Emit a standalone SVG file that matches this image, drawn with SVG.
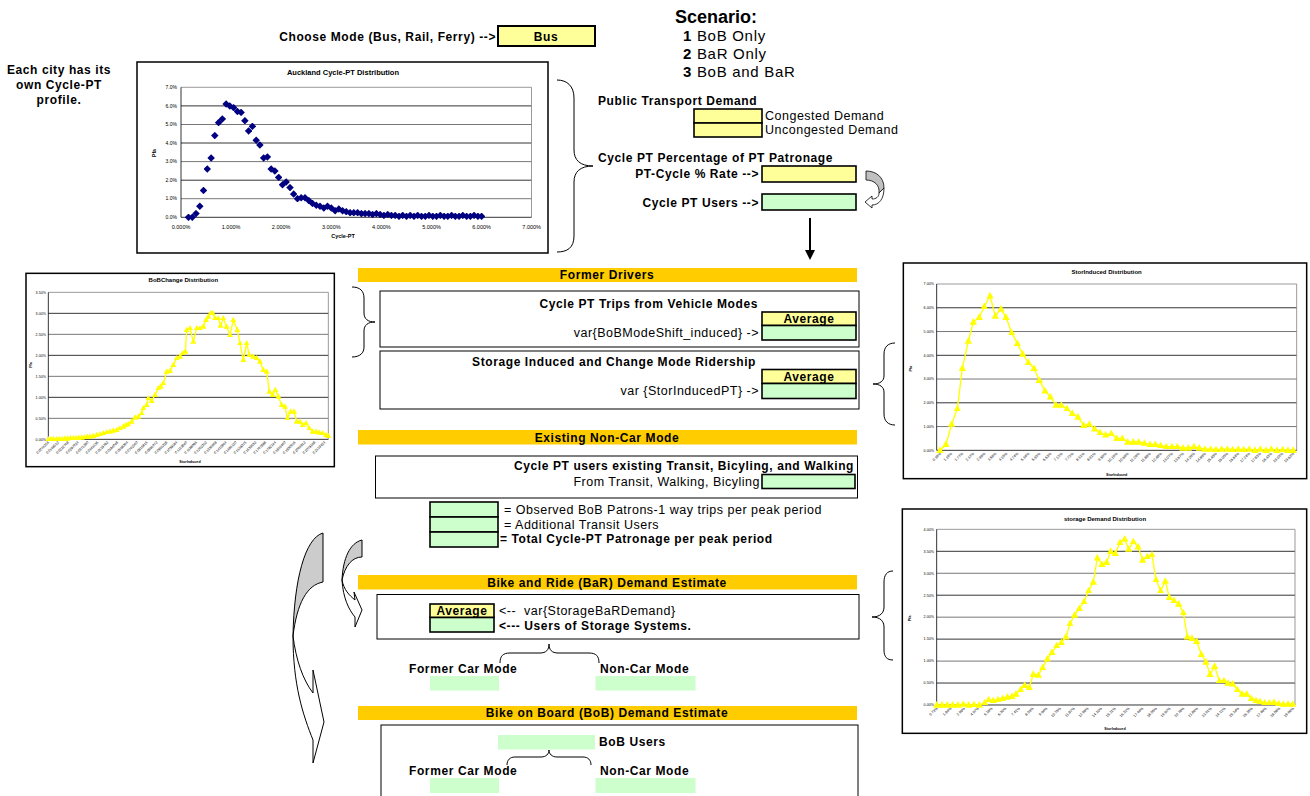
<svg xmlns="http://www.w3.org/2000/svg" width="1310" height="796" viewBox="0 0 1310 796">
<style>
text{font-family:"Liberation Sans",Arial,sans-serif;fill:#000}
.b{font-weight:bold;font-size:12px;letter-spacing:0.6px}
.r{font-size:12.5px;letter-spacing:0.5px}
.band{fill:#FFCC00}
.yc{fill:#FFFF99;stroke:#000;stroke-width:1.6}
.gc{fill:#CCFFCC;stroke:#000;stroke-width:1.6}
.gp{fill:#CCFFCC}
.box{fill:#fff;stroke:#000;stroke-width:1}
.chart{fill:#fff;stroke:#000}
.grid{stroke:#000}
.brace{fill:none;stroke:#000;stroke-width:1}
.ct{text-anchor:middle}
.ce{text-anchor:end}
</style>
<defs>
<marker id="dia" markerUnits="userSpaceOnUse" markerWidth="7.5" markerHeight="7.5" refX="3.75" refY="3.75" viewBox="0 0 7.5 7.5"><path d="M3.75 0L7.5 3.75L3.75 7.5L0 3.75Z" fill="#000080"/></marker>
<marker id="tri" markerUnits="userSpaceOnUse" markerWidth="22" markerHeight="20" refX="11" refY="12" viewBox="0 0 22 20"><path d="M11 0L22 20L0 20Z" fill="#FFFF00"/></marker>
<marker id="tri2" markerUnits="userSpaceOnUse" markerWidth="18" markerHeight="16" refX="9" refY="10" viewBox="0 0 18 16"><path d="M9 0L18 16L0 16Z" fill="#FFFF00"/></marker>
</defs>
<rect width="1310" height="796" fill="#fff"/>

<g id="header-mode">
<text class="b ce" x="496" y="41">Choose Mode (Bus, Rail, Ferry) --&gt;</text>
<rect x="498" y="26" width="97" height="20" fill="#FFFF99" stroke="#000" stroke-width="2"/>
<text class="b ct" x="546" y="41">Bus</text>
</g>

<g id="scenario">
<text x="675" y="23" style="font-weight:bold;font-size:18px">Scenario:</text>
<text x="683" y="41" style="font-size:15px;letter-spacing:0.7px"><tspan font-weight="bold">1</tspan> BoB Only</text>
<text x="683" y="59" style="font-size:15px;letter-spacing:0.7px"><tspan font-weight="bold">2</tspan> BaR Only</text>
<text x="683" y="77" style="font-size:15px;letter-spacing:0.7px"><tspan font-weight="bold">3</tspan> BoB and BaR</text>
</g>

<g id="note-city">
<text class="b ct" x="59" y="74">Each city has its</text>
<text class="b ct" x="59" y="89">own Cycle-PT</text>
<text class="b ct" x="59" y="104">profile.</text>
</g>

<g id="chart-auckland">
<rect class="chart" x="137" y="62" width="411" height="191" stroke-width="1.5"/>
<text class="ct" x="343" y="75" style="font-weight:bold;font-size:7.5px">Auckland Cycle-PT Distribution</text>
<g class="grid" stroke-width="0.8">
<line x1="181" y1="87.3" x2="531.5" y2="87.3" stroke="#808080"/>
<line x1="181" y1="105.9" x2="531.5" y2="105.9"/>
<line x1="181" y1="124.5" x2="531.5" y2="124.5" stroke="#555"/>
<line x1="181" y1="143" x2="531.5" y2="143"/>
<line x1="181" y1="161.6" x2="531.5" y2="161.6" stroke="#555"/>
<line x1="181" y1="180.2" x2="531.5" y2="180.2"/>
<line x1="181" y1="198.7" x2="531.5" y2="198.7" stroke="#555"/>
</g>
<line x1="531.5" y1="87.3" x2="531.5" y2="217.3" stroke="#808080" stroke-width="0.8"/>
<line x1="181" y1="87.3" x2="181" y2="217.3" stroke="#000" stroke-width="0.8"/>
<line x1="181" y1="217.3" x2="531.5" y2="217.3" stroke="#000" stroke-width="0.8"/>
<g style="font-size:5px" class="ce">
<text x="177" y="89">7.0%</text><text x="177" y="107.6">6.0%</text><text x="177" y="126.2">5.0%</text><text x="177" y="144.7">4.0%</text><text x="177" y="163.3">3.0%</text><text x="177" y="181.9">2.0%</text><text x="177" y="200.4">1.0%</text><text x="177" y="219">0.0%</text>
</g>
<g style="font-size:5.5px" class="ct">
<text x="181" y="229">0.000%</text><text x="231.1" y="229">1.000%</text><text x="281.2" y="229">2.000%</text><text x="331.3" y="229">3.000%</text><text x="381.4" y="229">4.000%</text><text x="431.5" y="229">5.000%</text><text x="481.6" y="229">6.000%</text><text x="531.7" y="229">7.000%</text>
</g>
<text class="ct" x="343" y="238" style="font-weight:bold;font-size:5.5px">Cycle-PT</text>
<text class="ct" transform="rotate(-90 156 153)" x="156" y="153" style="font-weight:bold;font-size:5px">Pfa</text>
<polyline fill="none" stroke="none" marker-start="url(#dia)" marker-mid="url(#dia)" marker-end="url(#dia)" points="188.5,217.3 192.3,217.3 196,213.6 199.8,206.2 203.5,190.4 207.3,169 211.1,157.9 214.8,135.6 218.6,122.6 222.3,118.9 226.1,104 229.8,105.9 233.6,107.7 237.4,111.5 241.1,112.4 244.9,120.7 248.6,130.9 252.4,126.3 256.2,140.2 259.9,144.9 263.7,157.9 267.4,156.9 271.2,169 274.9,170.9 278.7,177.4 282.5,184.8 286.2,182 290,187.6 293.7,194.1 297.5,198.7 301.2,197.8 305,197.8 308.8,200.6 312.5,203.4 316.3,205.2 320,206.2 323.8,208 327.5,206.2 331.3,208 335.1,210.8 338.8,208.9 342.6,210.8 346.3,211.7 350.1,212.7 353.8,212.7 357.6,212.7 361.4,213.6 365.1,213.6 368.9,213.6 372.6,214.5 376.4,213.6 380.1,214.5 383.9,215.4 387.7,214.5 391.4,215.4 395.2,215.4 399,216.3 402.7,215.4 406.5,216.3 410.2,215.4 414,216.3 417.7,215.4 421.5,216.3 425.3,216.3 429,215.4 432.8,216.3 436.5,216.3 440.3,215.4 444.1,216.3 447.8,216.3 451.6,215.4 455.3,216.3 459.1,216.3 462.8,215.4 466.6,216.3 470.4,216.3 474.1,215.4 477.9,216.3 481.6,216.3"/>
</g>

<g id="pt-demand">
<text class="b" x="598" y="105">Public Transport Demand</text>
<rect class="yc" x="694" y="109" width="68" height="14"/>
<rect class="yc" x="694" y="123" width="68" height="14"/>
<text class="r" x="765" y="120">Congested Demand</text>
<text class="r" x="765" y="134">Uncongested Demand</text>
</g>

<g id="cycle-pt">
<text class="b" x="598" y="162">Cycle PT Percentage of PT Patronage</text>
<text class="b ce" x="759" y="178">PT-Cycle % Rate --&gt;</text>
<rect class="yc" x="762" y="166" width="94" height="16"/>
<text class="b ce" x="759" y="207">Cycle PT Users --&gt;</text>
<rect class="gc" x="762" y="194" width="94" height="16"/>
</g>

<g id="chart-bobchange" transform="translate(0,265) scale(0.333333)">
<rect class="chart" x="78" y="25" width="925" height="580" stroke-width="4.5"/>
<text class="ct" x="550" y="52" style="font-weight:bold;font-size:18px">BoBChange Distribution</text>
<g class="grid" stroke-width="2.4">
<line x1="145" y1="82" x2="985" y2="82" stroke="#808080"/>
<line x1="145" y1="145" x2="985" y2="145"/>
<line x1="145" y1="208" x2="985" y2="208" stroke="#555"/>
<line x1="145" y1="271" x2="985" y2="271"/>
<line x1="145" y1="334" x2="985" y2="334" stroke="#555"/>
<line x1="145" y1="397" x2="985" y2="397"/>
<line x1="145" y1="460" x2="985" y2="460" stroke="#555"/>
</g>
<line x1="985" y1="82" x2="985" y2="523" stroke="#808080" stroke-width="2.4"/>
<line x1="145" y1="82" x2="145" y2="523" stroke="#000" stroke-width="2.4"/>
<line x1="145" y1="523" x2="985" y2="523" stroke="#000" stroke-width="2.4"/>
<g style="font-size:11px" class="ce">
<text x="138" y="86">3.50%</text><text x="138" y="149">3.00%</text><text x="138" y="212">2.50%</text><text x="138" y="275">2.00%</text><text x="138" y="338">1.50%</text><text x="138" y="401">1.00%</text><text x="138" y="464">0.50%</text><text x="138" y="527">0.00%</text>
</g>
<text class="ct" transform="rotate(-90 95 300)" x="95" y="300" style="font-weight:bold;font-size:11px">Pfa</text>
<g style="font-size:10.5px" class="ce">
<text x="148" y="533" transform="rotate(-45 148 533)">0.0074256</text>
<text x="177.6" y="533" transform="rotate(-45 177.6 533)">0.0148512</text>
<text x="207.2" y="533" transform="rotate(-45 207.2 533)">0.0222768</text>
<text x="236.8" y="533" transform="rotate(-45 236.8 533)">0.0297024</text>
<text x="266.4" y="533" transform="rotate(-45 266.4 533)">0.0371280</text>
<text x="296" y="533" transform="rotate(-45 296 533)">0.0445536</text>
<text x="325.6" y="533" transform="rotate(-45 325.6 533)">0.0519792</text>
<text x="355.2" y="533" transform="rotate(-45 355.2 533)">0.0594048</text>
<text x="384.8" y="533" transform="rotate(-45 384.8 533)">0.0668304</text>
<text x="414.4" y="533" transform="rotate(-45 414.4 533)">0.0742560</text>
<text x="444" y="533" transform="rotate(-45 444 533)">0.0816816</text>
<text x="473.6" y="533" transform="rotate(-45 473.6 533)">0.0891072</text>
<text x="503.2" y="533" transform="rotate(-45 503.2 533)">0.0965328</text>
<text x="532.8" y="533" transform="rotate(-45 532.8 533)">0.1039584</text>
<text x="562.4" y="533" transform="rotate(-45 562.4 533)">0.1113840</text>
<text x="592" y="533" transform="rotate(-45 592 533)">0.1188096</text>
<text x="621.6" y="533" transform="rotate(-45 621.6 533)">0.1262352</text>
<text x="651.2" y="533" transform="rotate(-45 651.2 533)">0.1336608</text>
<text x="680.8" y="533" transform="rotate(-45 680.8 533)">0.1410864</text>
<text x="710.4" y="533" transform="rotate(-45 710.4 533)">0.1485120</text>
<text x="740" y="533" transform="rotate(-45 740 533)">0.1559376</text>
<text x="769.6" y="533" transform="rotate(-45 769.6 533)">0.1633632</text>
<text x="799.2" y="533" transform="rotate(-45 799.2 533)">0.1707888</text>
<text x="828.8" y="533" transform="rotate(-45 828.8 533)">0.1782144</text>
<text x="858.4" y="533" transform="rotate(-45 858.4 533)">0.1856400</text>
<text x="888" y="533" transform="rotate(-45 888 533)">0.1930656</text>
<text x="917.6" y="533" transform="rotate(-45 917.6 533)">0.2004912</text>
<text x="947.2" y="533" transform="rotate(-45 947.2 533)">0.2079168</text>
<text x="976.8" y="533" transform="rotate(-45 976.8 533)">0.2153424</text>
</g>
<text class="ct" x="570" y="595" style="font-weight:bold;font-size:11px">StorInduced</text>
<polyline fill="none" stroke="#FFFF00" stroke-width="4" marker-start="url(#tri2)" marker-mid="url(#tri2)" marker-end="url(#tri2)" points="145,523 153,523 161,522 170,523 178,522 186,522 195,521 203,521 211,520 220,520 228,519 236,519 245,518 253,517 262,516 270,515 280,513 290,510 300,508 310,505 320,502 330,500 340,497 350,495 360,490 370,485 378,480 385,478 395,470 405,458 415,455 425,445 430,430 440,420 445,400 455,408 465,390 475,370 482,365 490,355 500,320 510,318 520,300 530,280 540,275 548,265 556,260 560,195 570,190 580,230 590,190 600,190 610,185 618,165 625,155 632,145 638,145 645,160 655,160 662,182 670,160 680,185 690,210 700,165 712,195 720,235 730,285 740,235 748,270 760,275 770,280 780,290 790,315 800,320 808,380 818,390 826,375 835,395 845,420 855,425 862,460 872,440 882,440 890,470 900,470 908,480 918,475 928,490 938,500 948,500 958,503 968,505 978,510 985,513"/>
</g>

<g id="band-former">
<rect class="band" x="358" y="268" width="499" height="14"/>
<text class="b ct" x="607" y="279">Former Drivers</text>
</g>

<g id="box-vehicle">
<rect class="box" x="380" y="291" width="479" height="56"/>
<text class="b ce" x="758" y="308">Cycle PT Trips from Vehicle Modes</text>
<rect class="yc" x="762" y="312" width="94" height="13.5"/>
<text class="b ct" x="809" y="323">Average</text>
<rect class="gc" x="762" y="325.5" width="94" height="14.5"/>
<text class="r ce" x="759" y="337">var{BoBModeShift_induced} -&gt;</text>
</g>

<g id="box-storage">
<rect class="box" x="380" y="351" width="479" height="58"/>
<text class="b ce" x="756" y="366">Storage Induced and Change Mode Ridership</text>
<rect class="yc" x="762" y="369.5" width="94" height="14"/>
<text class="b ct" x="809" y="380.5">Average</text>
<rect class="gc" x="762" y="383.5" width="94" height="15"/>
<text class="r ce" x="759" y="395">var {StorInducedPT} -&gt;</text>
</g>

<g id="band-existing">
<rect class="band" x="358" y="430" width="499" height="14.5"/>
<text class="b ct" x="607" y="441.5">Existing Non-Car Mode</text>
</g>

<g id="box-existing">
<rect class="box" x="375.5" y="456" width="482" height="42"/>
<text class="b ce" x="854" y="470">Cycle PT users existing Transit, Bicyling, and Walking</text>
<text class="r ce" x="760" y="485.5">From Transit, Walking, Bicyling</text>
<rect class="gc" x="762" y="474.5" width="93" height="14"/>
</g>

<g id="totals">
<rect class="gc" x="430" y="502" width="68" height="15"/>
<rect class="gc" x="430" y="517" width="68" height="15"/>
<rect class="gc" x="430" y="532" width="68" height="15"/>
<text class="r" x="504" y="514">= Observed BoB Patrons-1 way trips per peak period</text>
<text class="r" x="504" y="529">= Additional Transit Users</text>
<text class="b" x="500" y="543">= Total Cycle-PT Patronage per peak period</text>
</g>

<g id="band-bar">
<rect class="band" x="358" y="575" width="499" height="14.5"/>
<text class="b ct" x="607" y="586.5">Bike and Ride (BaR) Demand Estimate</text>
</g>

<g id="box-bar">
<rect class="box" x="377" y="594.5" width="482" height="44.5"/>
<rect class="yc" x="430" y="604" width="64" height="13.5"/>
<text class="b ct" x="462" y="615">Average</text>
<rect class="gc" x="430" y="617.5" width="64" height="14.5"/>
<text class="r" x="499" y="615">&lt;--&#160; var{StorageBaRDemand}</text>
<text class="b" x="499" y="629.5">&lt;--- Users of Storage Systems.</text>
</g>

<g id="bar-split">
<text class="b" x="409" y="673">Former Car Mode</text>
<text class="b" x="600" y="673">Non-Car Mode</text>
<rect class="gp" x="430" y="676" width="69" height="14.5"/>
<rect class="gp" x="595.5" y="676" width="100" height="14.5"/>
</g>

<g id="band-bob">
<rect class="band" x="358" y="706" width="499" height="14"/>
<text class="b ct" x="607" y="717">Bike on Board (BoB) Demand Estimate</text>
</g>

<g id="box-bob">
<rect class="box" x="381" y="725" width="477" height="80"/>
<rect class="gp" x="498" y="735" width="97" height="14.5"/>
<text class="b" x="599" y="746">BoB Users</text>
<text class="b" x="409" y="775">Former Car Mode</text>
<text class="b" x="600" y="775">Non-Car Mode</text>
<rect class="gp" x="430" y="778" width="69" height="15"/>
<rect class="gp" x="595.5" y="778" width="100" height="15"/>
</g>

<g id="chart-storinduced" transform="translate(870,258) scale(0.333333)">
<rect class="chart" x="100" y="15" width="1210" height="647" stroke-width="4.5"/>
<text class="ct" x="710" y="49" style="font-weight:bold;font-size:18px">StorInduced Distribution</text>
<g class="grid" stroke-width="2.4">
<line x1="200" y1="78" x2="1280" y2="78" stroke="#808080"/>
<line x1="200" y1="149.3" x2="1280" y2="149.3"/>
<line x1="200" y1="220.6" x2="1280" y2="220.6" stroke="#555"/>
<line x1="200" y1="291.9" x2="1280" y2="291.9"/>
<line x1="200" y1="363.1" x2="1280" y2="363.1" stroke="#555"/>
<line x1="200" y1="434.4" x2="1280" y2="434.4"/>
<line x1="200" y1="505.7" x2="1280" y2="505.7" stroke="#555"/>
</g>
<line x1="1280" y1="78" x2="1280" y2="577" stroke="#808080" stroke-width="2.4"/>
<line x1="200" y1="78" x2="200" y2="577" stroke="#000" stroke-width="2.4"/>
<line x1="200" y1="577" x2="1280" y2="577" stroke="#000" stroke-width="2.4"/>
<g style="font-size:11px" class="ce">
<text x="192" y="82">7.00%</text><text x="192" y="153.3">6.00%</text><text x="192" y="224.6">5.00%</text><text x="192" y="295.9">4.00%</text><text x="192" y="367.1">3.00%</text><text x="192" y="438.4">2.00%</text><text x="192" y="509.7">1.00%</text><text x="192" y="581">0.00%</text>
</g>
<text class="ct" transform="rotate(-90 127 332)" x="127" y="332" style="font-weight:bold;font-size:11px">Pfa</text>
<g style="font-size:11px" class="ce">
<text x="214" y="588" transform="rotate(-45 214 588)">0.39%</text>
<text x="247.1" y="588" transform="rotate(-45 247.1 588)">1.19%</text>
<text x="280.2" y="588" transform="rotate(-45 280.2 588)">1.77%</text>
<text x="313.3" y="588" transform="rotate(-45 313.3 588)">2.37%</text>
<text x="346.4" y="588" transform="rotate(-45 346.4 588)">2.96%</text>
<text x="379.5" y="588" transform="rotate(-45 379.5 588)">3.56%</text>
<text x="412.6" y="588" transform="rotate(-45 412.6 588)">4.15%</text>
<text x="445.7" y="588" transform="rotate(-45 445.7 588)">4.74%</text>
<text x="478.8" y="588" transform="rotate(-45 478.8 588)">5.34%</text>
<text x="511.9" y="588" transform="rotate(-45 511.9 588)">5.93%</text>
<text x="545" y="588" transform="rotate(-45 545 588)">6.53%</text>
<text x="578.1" y="588" transform="rotate(-45 578.1 588)">7.12%</text>
<text x="611.2" y="588" transform="rotate(-45 611.2 588)">7.72%</text>
<text x="644.3" y="588" transform="rotate(-45 644.3 588)">8.31%</text>
<text x="677.4" y="588" transform="rotate(-45 677.4 588)">8.91%</text>
<text x="710.5" y="588" transform="rotate(-45 710.5 588)">9.50%</text>
<text x="743.6" y="588" transform="rotate(-45 743.6 588)">10.10%</text>
<text x="776.7" y="588" transform="rotate(-45 776.7 588)">10.69%</text>
<text x="809.8" y="588" transform="rotate(-45 809.8 588)">11.29%</text>
<text x="842.9" y="588" transform="rotate(-45 842.9 588)">11.88%</text>
<text x="876" y="588" transform="rotate(-45 876 588)">12.48%</text>
<text x="909.1" y="588" transform="rotate(-45 909.1 588)">13.07%</text>
<text x="942.2" y="588" transform="rotate(-45 942.2 588)">13.67%</text>
<text x="975.3" y="588" transform="rotate(-45 975.3 588)">14.26%</text>
<text x="1008.4" y="588" transform="rotate(-45 1008.4 588)">14.86%</text>
<text x="1041.5" y="588" transform="rotate(-45 1041.5 588)">15.45%</text>
<text x="1074.6" y="588" transform="rotate(-45 1074.6 588)">16.05%</text>
<text x="1107.7" y="588" transform="rotate(-45 1107.7 588)">16.64%</text>
<text x="1140.8" y="588" transform="rotate(-45 1140.8 588)">17.24%</text>
<text x="1173.9" y="588" transform="rotate(-45 1173.9 588)">17.83%</text>
<text x="1207" y="588" transform="rotate(-45 1207 588)">18.43%</text>
<text x="1240.1" y="588" transform="rotate(-45 1240.1 588)">19.02%</text>
<text x="1273.2" y="588" transform="rotate(-45 1273.2 588)">19.62%</text>
</g>
<text class="ct" x="740" y="655" style="font-weight:bold;font-size:11px">StorInduced</text>
<polyline fill="none" stroke="#FFFF00" stroke-width="4" marker-start="url(#tri)" marker-mid="url(#tri)" marker-end="url(#tri)" points="210,577 228,559 245,498.6 262,452.2 277,331 295,249 310,192 328,177.7 343,145.6 360,113.6 376,174.2 393,152.8 408,177.7 425,224 442,256.2 458,288.2 475,313.2 492,331 508,366.7 525,398.8 541,416.6 558,441.5 574,441.5 591,452.2 607,466.5 624,477.2 641,502.1 658,498.6 674,512.8 690,523.5 707,530.7 724,527.1 740,541.4 757,541.4 773,552 790,552 806,552 823,555.6 840,559.2 856,559.2 872,562.7 889,566.3 906,566.3 922,566.3 939,569.9 955,569.9 972,566.3 988,569.9 1005,573.4 1022,573.4 1038,575 1055,573.4 1072,573.4 1088,575 1105,573.4 1121,575 1138,573.4 1155,577 1171,573.4 1188,577 1204,573.4 1221,577 1238,575 1254,577 1270,577"/>
</g>

<g id="chart-storage" transform="translate(870,505) scale(0.333333)">
<rect class="chart" x="97" y="12" width="1213" height="673" stroke-width="4.5"/>
<text class="ct" x="705" y="49" style="font-weight:bold;font-size:18px">storage Demand Distribution</text>
<g class="grid" stroke-width="2.4">
<line x1="200" y1="73" x2="1275" y2="73" stroke="#808080"/>
<line x1="200" y1="138.9" x2="1275" y2="138.9"/>
<line x1="200" y1="204.8" x2="1275" y2="204.8" stroke="#555"/>
<line x1="200" y1="270.6" x2="1275" y2="270.6"/>
<line x1="200" y1="336.5" x2="1275" y2="336.5" stroke="#555"/>
<line x1="200" y1="402.4" x2="1275" y2="402.4"/>
<line x1="200" y1="468.3" x2="1275" y2="468.3" stroke="#555"/>
<line x1="200" y1="534.1" x2="1275" y2="534.1"/>
</g>
<line x1="1275" y1="73" x2="1275" y2="600" stroke="#808080" stroke-width="2.4"/>
<line x1="200" y1="73" x2="200" y2="600" stroke="#000" stroke-width="2.4"/>
<line x1="200" y1="600" x2="1275" y2="600" stroke="#000" stroke-width="2.4"/>
<g style="font-size:11px" class="ce">
<text x="192" y="77">4.00%</text><text x="192" y="142.9">3.50%</text><text x="192" y="208.8">3.00%</text><text x="192" y="274.6">2.50%</text><text x="192" y="340.5">2.00%</text><text x="192" y="406.4">1.50%</text><text x="192" y="472.3">1.00%</text><text x="192" y="538.1">0.50%</text><text x="192" y="604">0.00%</text>
</g>
<text class="ct" transform="rotate(-90 122 340)" x="122" y="340" style="font-weight:bold;font-size:11px">Pfa</text>
<g style="font-size:11px" class="ce">
<text x="204" y="611" transform="rotate(-45 204 611)">0.73%</text>
<text x="245.1" y="611" transform="rotate(-45 245.1 611)">1.84%</text>
<text x="286.2" y="611" transform="rotate(-45 286.2 611)">2.96%</text>
<text x="327.3" y="611" transform="rotate(-45 327.3 611)">4.07%</text>
<text x="368.4" y="611" transform="rotate(-45 368.4 611)">5.18%</text>
<text x="409.5" y="611" transform="rotate(-45 409.5 611)">6.30%</text>
<text x="450.6" y="611" transform="rotate(-45 450.6 611)">7.41%</text>
<text x="491.7" y="611" transform="rotate(-45 491.7 611)">8.53%</text>
<text x="532.8" y="611" transform="rotate(-45 532.8 611)">9.64%</text>
<text x="573.9" y="611" transform="rotate(-45 573.9 611)">10.75%</text>
<text x="615" y="611" transform="rotate(-45 615 611)">11.87%</text>
<text x="656.1" y="611" transform="rotate(-45 656.1 611)">12.98%</text>
<text x="697.2" y="611" transform="rotate(-45 697.2 611)">14.10%</text>
<text x="738.3" y="611" transform="rotate(-45 738.3 611)">15.21%</text>
<text x="779.4" y="611" transform="rotate(-45 779.4 611)">16.32%</text>
<text x="820.5" y="611" transform="rotate(-45 820.5 611)">17.44%</text>
<text x="861.6" y="611" transform="rotate(-45 861.6 611)">18.55%</text>
<text x="902.7" y="611" transform="rotate(-45 902.7 611)">19.67%</text>
<text x="943.8" y="611" transform="rotate(-45 943.8 611)">20.78%</text>
<text x="984.9" y="611" transform="rotate(-45 984.9 611)">21.89%</text>
<text x="1026" y="611" transform="rotate(-45 1026 611)">23.01%</text>
<text x="1067.1" y="611" transform="rotate(-45 1067.1 611)">24.12%</text>
<text x="1108.2" y="611" transform="rotate(-45 1108.2 611)">25.24%</text>
<text x="1149.3" y="611" transform="rotate(-45 1149.3 611)">26.35%</text>
<text x="1190.4" y="611" transform="rotate(-45 1190.4 611)">27.46%</text>
<text x="1231.5" y="611" transform="rotate(-45 1231.5 611)">28.58%</text>
<text x="1272.6" y="611" transform="rotate(-45 1272.6 611)">29.69%</text>
</g>
<text class="ct" x="735" y="675" style="font-weight:bold;font-size:11px">StorInduced</text>
<polyline fill="none" stroke="#FFFF00" stroke-width="4" marker-start="url(#tri)" marker-mid="url(#tri)" marker-end="url(#tri)" points="200,600 216,600 232,600 248,600 264,600 280,597.4 296,600 312,598.7 328,600 344,593.4 356,584.2 370,586.8 384,584.2 398,580.2 412,576.3 426,573.7 438,567.1 452,553.9 464,540.7 478,547.3 490,507.8 505,510.4 518,488 532,461.7 546,441.9 560,422.1 574,412.9 588,395.8 600,356.3 614,329.9 628,310.2 642,290.4 656,257.5 670,231.1 682,158.6 696,178.4 710,171.8 722,138.9 736,145.5 750,112.5 764,102 776,132.3 790,109.9 804,125.7 818,165.2 832,154.7 846,149.4 858,224.5 872,257.5 886,228.5 898,277.2 912,286.4 926,297 940,323.3 952,395.8 966,399.7 980,408.9 994,448.5 1008,470.9 1020,507.8 1034,484.1 1048,527.5 1062,527.5 1074,534.1 1088,536.8 1102,553.9 1116,567.1 1130,567.1 1144,580.2 1158,586.8 1170,589.5 1184,593.4 1198,593.4 1212,592.1 1226,596 1240,597.4 1254,597.4 1268,597.4"/>
</g>

<g id="connectors">
<path class="brace" d="M557,80 C567,80 574,86 574,98 L574,150 C574,160 580,166 593,166 C580,166 574,172 574,182 L574,236 C574,248 567,252 557,252"/>
<path class="brace" d="M352,287 C360,287 364,291 364,298 L364,313 C364,319 368,322 375,322 C368,322 364,325 364,331 L364,347 C364,353 360,357 352,357"/>
<path class="brace" d="M895,343 C888,343 884,347 884,354 L884,376 C884,381 880,384 873,384 C880,384 884,387 884,392 L884,414 C884,421 888,425 895,425"/>
<path class="brace" d="M893,571 C887,571 884,575 884,582 L884,607 C884,613 880,617 872,617 C880,617 884,621 884,627 L884,650 C884,657 887,660 893,660"/>
<path class="brace" d="M500,663 C500,656 503,653 510,653 L540,653 C546,653 549,650 549,644 C549,650 552,653 558,653 L589,653 C596,653 599,656 599,663"/>
<path class="brace" d="M507,765 C507,760 510,757 515,757 L541,757 C546,757 549,754 549,750 C549,754 552,757 557,757 L583,757 C588,757 591,760 591,765"/>
<line x1="810" y1="218" x2="810" y2="251" stroke="#000" stroke-width="2"/>
<path d="M805,250 L815,250 L810,260 Z" fill="#000"/>
<path d="M866,171 C876,171 884,177 884,188 L879,193 C880,185 874,180 866,180 Z" fill="#C0C0C0" stroke="#000" stroke-width="0.8"/>
<path d="M884,188 C884,199 879,205 872,205 L872,208 L865,202 L872,196 L872,199 C876,199 879,197 879,193 Z" fill="#fff" stroke="#000" stroke-width="0.8"/>
<path d="M323,533 C305,538 294,580 293,636 C297,603 307,585 323,582 Z" fill="#CCCCCC" stroke="#000" stroke-width="1"/>
<path d="M293,636 C293,685 303,715 313,740 L313,763 L324,722 L313,670 L313,693 C303,680 296,660 293,636 Z" fill="#fff" stroke="#000" stroke-width="1"/>
<path d="M362,540 C350,543 343,558 342,580 C345,566 352,557 362,557 Z" fill="#CCCCCC" stroke="#000" stroke-width="1"/>
<path d="M342,580 C343,598 349,610 355,617 L355,627 L362,610 L354,592 L355,600 C349,595 344,590 342,580 Z" fill="#fff" stroke="#000" stroke-width="1"/>
</g>
</svg>
